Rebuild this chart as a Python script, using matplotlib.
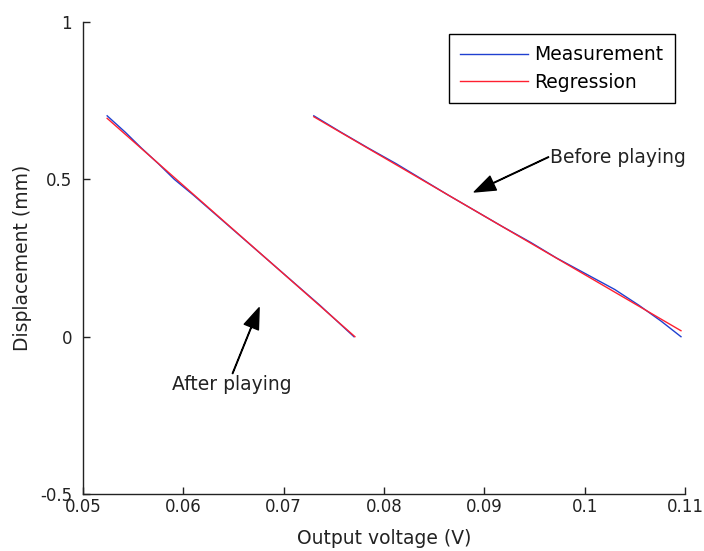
import matplotlib
matplotlib.use("Agg")
import matplotlib.pyplot as plt

# measurement after playing (voltage, displacement)
after_v = [0.0524, 0.0542, 0.0558, 0.0575, 0.0591, 0.0610, 0.0628, 0.0646,
           0.0664, 0.0682, 0.0700, 0.0718, 0.0736, 0.0753, 0.0770]
after_d = [0.702, 0.65, 0.60, 0.55, 0.50, 0.45, 0.40, 0.35,
           0.30, 0.25, 0.20, 0.15, 0.10, 0.05, 0.0]

# measurement before playing
before_v = [0.0730, 0.0757, 0.0784, 0.0812, 0.0838, 0.0864, 0.0891, 0.0918,
            0.0946, 0.0972, 0.1001, 0.1030, 0.1054, 0.1076, 0.1096]
before_d = [0.702, 0.65, 0.60, 0.55, 0.50, 0.45, 0.40, 0.35,
            0.30, 0.25, 0.20, 0.15, 0.10, 0.05, 0.0]

# regression lines (end points)
reg_after_v = [0.0524, 0.0771]
reg_after_d = [0.694, 0.0]
reg_before_v = [0.0730, 0.1096]
reg_before_d = [0.699, 0.019]

xticks = [0.05, 0.06, 0.07, 0.08, 0.09, 0.1, 0.11]
xticklabels = ['0.05', '0.06', '0.07', '0.08', '0.09', '0.1', '0.11']
yticks = [-0.5, 0, 0.5, 1]
yticklabels = ['-0.5', '0', '0.5', '1']

fig = plt.figure(figsize=(7.04, 5.51), dpi=100)
ax = fig.add_axes([0.118, 0.1034, 0.855, 0.8566])

ax.plot(after_v, after_d, color='#2040d0', linewidth=1.0, label='Measurement')
ax.plot(before_v, before_d, color='#2040d0', linewidth=1.0)
ax.plot(reg_after_v, reg_after_d, color='#ff2030', linewidth=1.0, label='Regression')
ax.plot(reg_before_v, reg_before_d, color='#ff2030', linewidth=1.0)

ax.set_xlim(0.05, 0.11)
ax.set_ylim(-0.5, 1)
ax.set_xticks(xticks)
ax.set_xticklabels(xticklabels)
ax.set_yticks(yticks)
ax.set_yticklabels(yticklabels)

for s in ['top', 'right']:
    ax.spines[s].set_visible(False)
for s in ['left', 'bottom']:
    ax.spines[s].set_color('#222222')
    ax.spines[s].set_linewidth(1.0)

ax.tick_params(direction='in', length=5, width=1.0, color='#222222',
               labelsize=12, labelcolor='#222222')
ax.tick_params(axis='x', pad=3)
ax.tick_params(axis='y', pad=8)

ax.set_xlabel('Output voltage (V)', fontsize=13.5, color='#222222', labelpad=9)
ax.set_ylabel('Displacement (mm)', fontsize=13.5, color='#222222', labelpad=6)

arrow = dict(facecolor='black', edgecolor='black', width=0.4,
             headwidth=11, headlength=15, shrink=0)
ax.annotate('', xy=(0.0890, 0.46), xytext=(0.0964, 0.571), arrowprops=arrow)
ax.text(0.0965, 0.571, 'Before playing', fontsize=13.5, ha='left', va='center',
        color='#222222')
ax.annotate('', xy=(0.06755, 0.092), xytext=(0.0649, -0.117), arrowprops=arrow)
ax.text(0.0648, -0.152, 'After playing', fontsize=13.5, ha='center', va='center',
        color='#222222')

leg = ax.legend(loc='upper right', bbox_to_anchor=(0.983, 0.975), borderaxespad=0,
                fontsize=13.5, handlelength=3.6, handletextpad=0.35,
                labelspacing=0.45, fancybox=False, framealpha=1,
                edgecolor='black', borderpad=0.6)
leg.get_frame().set_linewidth(1.0)

plt.savefig('out.png', dpi=100)
